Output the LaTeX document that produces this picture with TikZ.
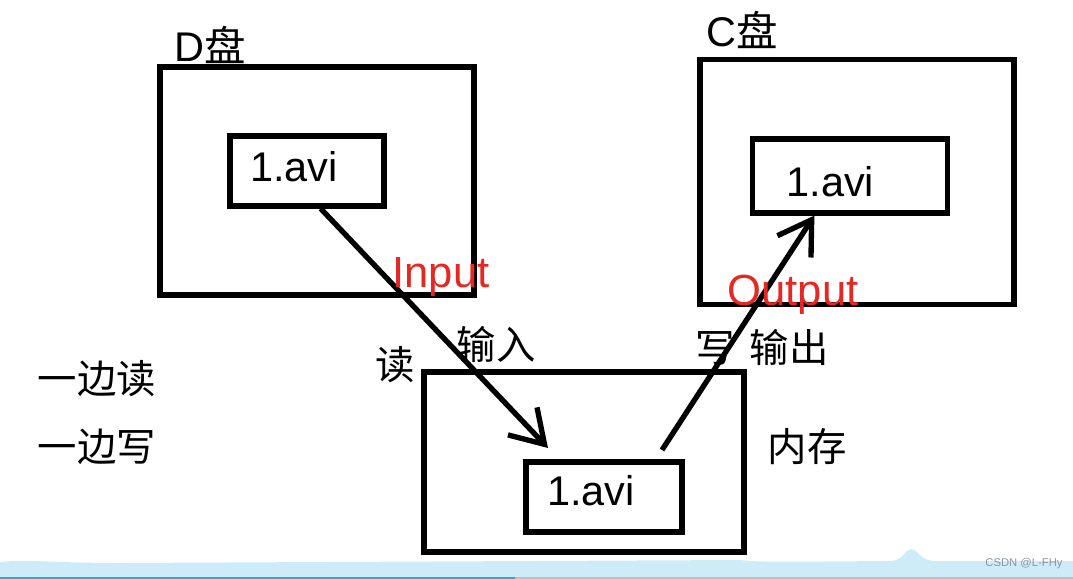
\documentclass[tikz,border=0pt]{standalone}
\usepackage{fontspec}
\setmainfont{Liberation Sans}
\newfontfamily\cjk{Noto Sans CJK SC}
\usetikzlibrary{arrows.meta}
\definecolor{inred}{RGB}{228,40,36}
\definecolor{bandblue}{RGB}{206,236,248}
\definecolor{lineblue}{RGB}{40,168,224}
\definecolor{markgray}{RGB}{140,150,160}
\tikzstyle{disk} = [rectangle, draw=black, line width=3.6pt, inner sep=0pt]
\tikzstyle{file} = [rectangle, draw=black, line width=3.6pt, align=left,
inner ysep=0pt, text depth=0pt, font=\fontsize{29.5}{30}\selectfont]
\tikzstyle{caption} = [inner sep=0pt, font=\fontsize{28}{28}\selectfont\cjk]
\tikzstyle{title} = [inner sep=0pt, font=\fontsize{29.5}{30}\selectfont]
\tikzstyle{tag} = [inner sep=0pt, text=inred, font=\fontsize{31}{31}\selectfont]
\tikzstyle{stroke} = [line width=3.8pt]
\tikzset{>={Straight Barb[length=0.8cm,width=1cm]}}
\newcommand{\flow}[2]{\draw[->,stroke] (#1) -- (#2);}

\begin{document}
\begin{tikzpicture}[x=0.025cm, y=-0.025cm]
  \useasboundingbox (0,0) rectangle (1073,579);

  % strip at the bottom
  \fill[bandblue] (0,579) -- (0,562) .. controls (30,559) and (50,563) .. (120,563)
    -- (740,560) .. controls (760,562) .. (890,561)
    .. controls (905,560) and (905,549) .. (911,549)
    .. controls (918,549) and (918,560) .. (935,561)
    -- (1073,561) -- (1073,579) -- cycle;
  \draw[lineblue, line width=1.5pt] (0,578) -- (515,578);
  \draw[markgray!60, line width=1pt] (515,578) -- (1073,578);
  \node[inner sep=0pt, text=markgray, font=\fontsize{8}{8}\selectfont] (mark) at (1024,564) {CSDN @L-FHy};

  % disks and memory
  \node[disk, minimum width=314*0.025cm, minimum height=228*0.025cm] (ddisk) at (317,181) {};
  \node[disk, minimum width=314*0.025cm, minimum height=245*0.025cm] (cdisk) at (857,182) {};
  \node[disk, minimum width=320*0.025cm, minimum height=180*0.025cm] (mem) at (584,462) {};

  \node[title, anchor=south west] (dname) at (174,64) {D{\cjk 盘}};
  \node[title, anchor=south west] (cname) at (706,49) {C{\cjk 盘}};

  % the file in each place
  \node[file, minimum height=70*0.025cm, inner xsep=20*0.025cm, text width=114*0.025cm,
    text height=14.8pt] (dfile) at (307,171) {1.avi};
  \node[file, minimum height=74*0.025cm, inner xsep=34*0.025cm, text width=127*0.025cm,
    text height=29.7pt] (cfile) at (850,176) {1.avi};
  \node[file, minimum height=70*0.025cm, inner xsep=21*0.025cm, text width=114*0.025cm,
    text height=12.7pt] (mfile) at (604,497) {1.avi};

  \coordinate (rdtip) at (548,448);
  \coordinate (wrbase) at (662,450);
  \flow{dfile.-70}{rdtip}
  \flow{wrbase}{cfile.-132}

  \node[tag] (input) at (441,277) {Input};
  \node[tag] (output) at (793,295) {Output};

  \node[caption] (rdin) at (496,344) {输入};
  \node[caption] (rd) at (395,365) {读};
  \node[caption] (wr) at (715,348) {写};
  \node[caption] (wrout) at (789,347) {输出};
  \node[caption] (ram) at (807,447) {内存};
  \node[caption] (side1) at (97,379) {一边读};
  \node[caption] (side2) at (97,447) {一边写};
\end{tikzpicture}
\end{document}
